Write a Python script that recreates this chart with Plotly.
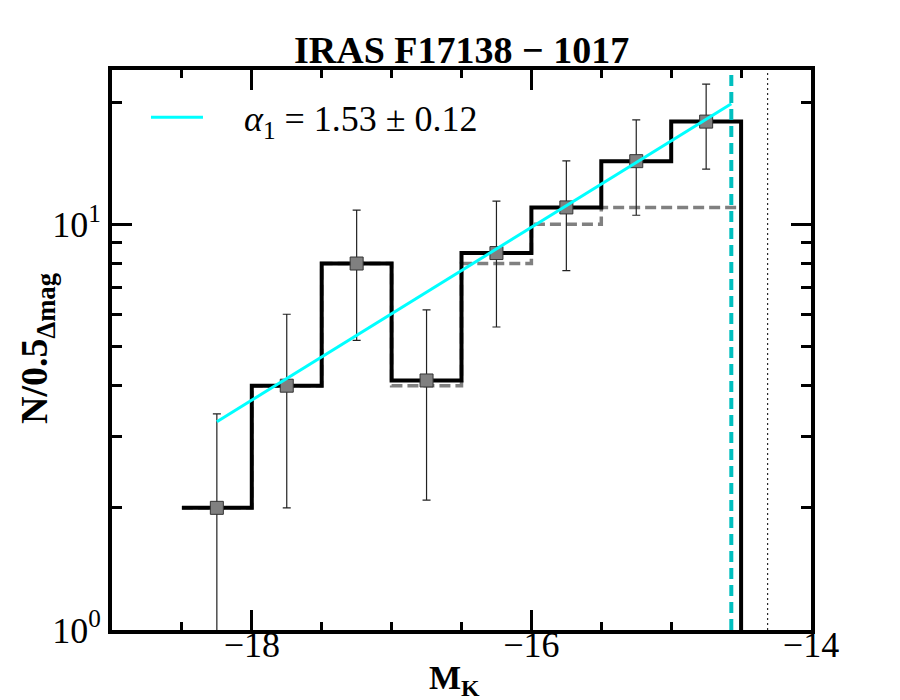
import plotly.graph_objects as go

# ---- data ----
bin_edges = [-18.5, -18.0, -17.5, -17.0, -16.5, -16.0, -15.5, -15.0, -14.5]
corrected_counts = [2.0, 4.0, 8.0, 4.12, 8.49, 11.0, 14.3, 17.9]
raw_counts = [2.0, 4.0, 8.0, 4.0, 8.0, 10.0, 11.0, 11.0]
bin_centers = [-18.25, -17.75, -17.25, -16.75, -16.25, -15.75, -15.25, -14.75]
count_errors = [1.41, 2.0, 2.83, 2.03, 2.91, 3.32, 3.78, 4.23]
fit_x = [-18.25, -14.57]
fit_y = [3.26, 19.8]
completeness_limit = -14.57
detection_limit = -14.31
y_bottom_drop = 0.5

x_tickvals = [-18, -16, -14]
x_ticktext = ["\u221218", "\u221216", "\u221214"]
x_minor = [-18.5, -17.5, -17, -16.5, -15.5, -15, -14.5]
y_tickvals = [1, 10]
y_ticktext = ["10<sup>0</sup>", "10<sup>1</sup>"]
y_minor = [2, 3, 4, 5, 6, 7, 8, 9, 20]

FONT = "Liberation Serif"

fig = go.Figure()

# raw (grey dashed) histogram
fig.add_trace(go.Scatter(
    x=bin_edges, y=raw_counts + [raw_counts[-1]],
    mode="lines", line=dict(shape="hv", color="#808080", width=3.5, dash="11px,5px"),
    showlegend=False, hoverinfo="skip"))

# corrected (black) histogram
fig.add_trace(go.Scatter(
    x=bin_edges + [bin_edges[-1]],
    y=corrected_counts + [corrected_counts[-1], y_bottom_drop],
    mode="lines", line=dict(shape="hv", color="black", width=4),
    showlegend=False, hoverinfo="skip"))

# points with error bars
fig.add_trace(go.Scatter(
    x=bin_centers, y=corrected_counts, mode="markers",
    marker=dict(symbol="square", size=13, color="#808080",
                line=dict(color="#333333", width=1)),
    error_y=dict(type="data", array=count_errors, color="#222222",
                 thickness=1.2, width=4),
    showlegend=False))

# fit line
fig.add_trace(go.Scatter(
    x=fit_x, y=fit_y, mode="lines",
    line=dict(color="#00FFFF", width=3),
    name="\u00a0\u00a0\u00a0\u00a0<i>\u03b1</i><sub>1</sub> = 1.53 \u00b1 0.12"))

fig.add_vline(x=completeness_limit, line=dict(color="#00BFBF", width=4, dash="11px,6px"))
fig.add_vline(x=detection_limit, line=dict(color="black", width=1, dash="2px,3px"))

axis_common = dict(showline=True, linecolor="black", linewidth=4, mirror="allticks",
                   ticks="inside", tickcolor="black", showgrid=False, zeroline=False,
                   automargin=False)

fig.update_xaxes(range=[-19, -14], tickmode="array", tickvals=x_tickvals,
                 ticktext=x_ticktext, ticklen=20, tickwidth=3,
                 ticklabelstandoff=-20,
                 minor=dict(tickmode="array", tickvals=x_minor, ticks="inside",
                            ticklen=8, tickwidth=3, tickcolor="black", showgrid=False),
                 tickfont=dict(family=FONT, size=36, color="black"),
                 **axis_common)
fig.update_yaxes(type="log", range=[0, 1.380], tickmode="array", tickvals=y_tickvals,
                 ticktext=y_ticktext, ticklen=20, tickwidth=3,
                 minor=dict(tickmode="array", tickvals=y_minor, ticks="inside",
                            ticklen=10, tickwidth=3, tickcolor="black", showgrid=False),
                 tickfont=dict(family=FONT, size=36, color="black"),
                 **axis_common)

# axis titles as annotations
fig.add_annotation(text="<b>M<sub>K</sub></b>", xref="paper", yref="paper",
                   x=0.49, y=-0.09, xanchor="center", yanchor="middle", showarrow=False,
                   font=dict(family=FONT, size=34, color="black"))
fig.add_annotation(text="<b>N/0.5<sub>\u0394mag</sub></b>", xref="paper", yref="paper",
                   x=-0.107, y=0.504, xanchor="center", yanchor="middle", showarrow=False,
                   textangle=-90, font=dict(family=FONT, size=38, color="black"))

fig.update_layout(
    width=900, height=700,
    margin=dict(l=104, r=97, t=62, b=78, autoexpand=False),
    paper_bgcolor="white", plot_bgcolor="white",
    title=dict(text="<b>IRAS F17138 \u2212 1017</b>", x=0.504, xanchor="center",
               y=0.94, yanchor="middle", font=dict(family=FONT, size=38, color="black")),
    legend=dict(x=0.0486, y=0.969, xanchor="left", yanchor="top", bgcolor="rgba(0,0,0,0)",
                font=dict(family=FONT, size=36, color="black"), itemwidth=52),
    showlegend=True,
)

fig.write_html("out.html")
